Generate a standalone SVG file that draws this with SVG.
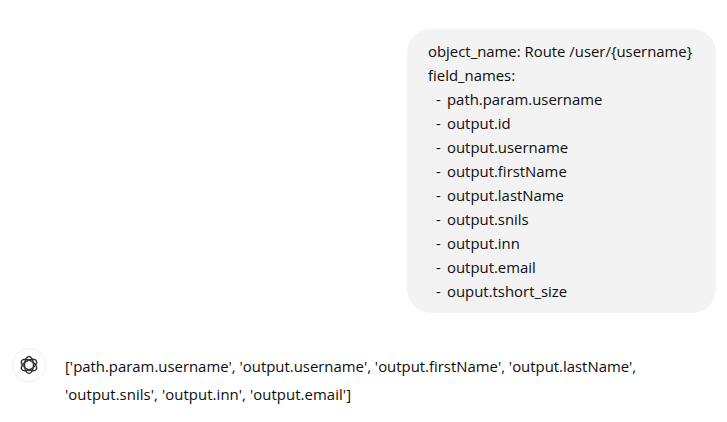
<svg xmlns="http://www.w3.org/2000/svg" width="727" height="422" viewBox="0 0 727 422">
<style>
text{font-family:"Open Sans","Noto Sans","Liberation Sans",sans-serif;font-size:14.9px;fill:#0d0d0d}
</style>
<rect width="727" height="422" fill="#fff"/>
<g id="user-message">
<rect x="407" y="29" width="309" height="284" rx="24" fill="#f3f3f3"/>
<text x="428" y="57">object_name: Route /user/{username}</text>
<text x="428" y="81">field_names:</text>
<text x="436" y="105">- <tspan x="447">path.param.username</tspan></text>
<text x="436" y="129">- <tspan x="447">output.id</tspan></text>
<text x="436" y="153">- <tspan x="447">output.username</tspan></text>
<text x="436" y="177">- <tspan x="447">output.firstName</tspan></text>
<text x="436" y="201">- <tspan x="447">output.lastName</tspan></text>
<text x="436" y="225">- <tspan x="447">output.snils</tspan></text>
<text x="436" y="249">- <tspan x="447">output.inn</tspan></text>
<text x="436" y="273">- <tspan x="447">output.email</tspan></text>
<text x="436" y="297">- <tspan x="447">ouput.tshort_size</tspan></text>
</g>
<g id="assistant-icon">
<circle cx="29" cy="365" r="16.5" fill="#fff" stroke="#efefef"/>
<g fill="none" stroke="#333" stroke-width="1.4">
<ellipse cx="29" cy="365" rx="4.5" ry="8.5"/>
<ellipse cx="29" cy="365" rx="4.5" ry="8.5" transform="rotate(60 29 365)"/>
<ellipse cx="29" cy="365" rx="4.5" ry="8.5" transform="rotate(120 29 365)"/>
</g>
</g>
<g id="assistant-message">
<text x="65" y="372">['path.param.username', 'output.username', 'output.firstName', 'output.lastName',</text>
<text x="65" y="400" textLength="286">'output.snils', 'output.inn', 'output.email']</text>
</g>
</svg>
